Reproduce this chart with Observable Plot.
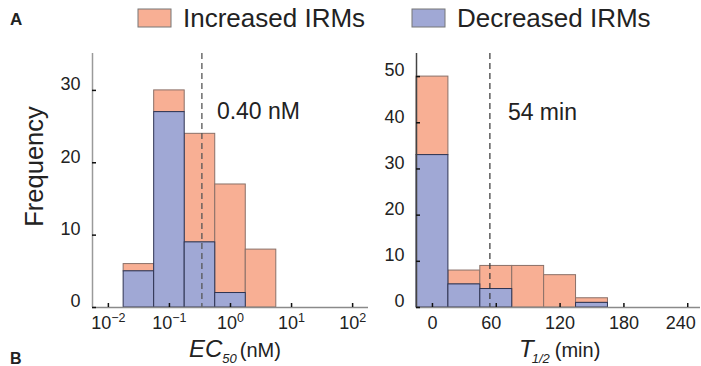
<!DOCTYPE html>
<html><head><meta charset="utf-8">
<script src="https://cdn.jsdelivr.net/npm/d3@7"></script>
<script src="https://cdn.jsdelivr.net/npm/@observablehq/plot@0.6"></script>
<style>
body{margin:0;background:#fff;font-family:"Liberation Sans",Arial,sans-serif;}
#wrap{position:relative;width:701px;height:366px;overflow:hidden;background:#fff}
#wrap svg{position:absolute;top:0}
</style></head><body><div id="wrap"></div>
<script>
// ---- data ----
const groups = ["Increased IRMs", "Decreased IRMs"];
const groupColors = ["#F8AF94", "#A0A8D5"];

// Panel A-left: EC50 histogram (log10 bin edges, nM)
const ec50BinExponents = [-1.75, -1.25, -0.75, -0.25, 0.25, 0.75];
const ec50Decreased = [5, 27, 9, 2, 0];
const ec50Increased = [1, 3, 15, 15, 8];
const ec50TickExponents = [-2, -1, 0, 1, 2];
const ec50YTicks = [0, 10, 20, 30];
const ec50Median = 0.34;
const ec50MedianLabel = "0.40 nM";

// Panel A-right: T1/2 histogram (min)
const t12BinEdges = [-15, 15, 45, 75, 105, 135, 165];
const t12Decreased = [33, 5, 4, 0, 0, 1];
const t12Increased = [17, 3, 5, 9, 7, 1];
const t12Ticks = [0, 60, 120, 180, 240];
const t12YTicks = [0, 10, 20, 30, 40, 50];
const t12Median = 54;
const t12MedianLabel = "54 min";

// ---- tables ----
const ec50Bins = ec50Decreased.map((d, i) => ({
  x1: 10 ** ec50BinExponents[i], x2: 10 ** ec50BinExponents[i + 1],
  dec: d, total: d + ec50Increased[i]
}));
const t12Bins = t12Decreased.map((d, i) => ({
  x1: t12BinEdges[i], x2: t12BinEdges[i + 1],
  dec: d, total: d + t12Increased[i]
}));

const font = "Liberation Sans, Arial, sans-serif";
const ink = "#222";
const incStroke = "#8a7068";
const decStroke = "#2e3352";

const ec50XMin = 10 ** -2.26, ec50XMax = 10 ** 2.26;
const left = Plot.plot({
  width: 372, height: 366, marginLeft: 92, marginRight: 4, marginTop: 53, marginBottom: 59,
  style: {fontFamily: font, fontSize: "18px", color: ink, background: "transparent", overflow: "visible"},
  x: {type: "log", domain: [ec50XMin, ec50XMax], label: null},
  y: {domain: [0, 35.1], label: null},
  marks: [
    Plot.rectY(ec50Bins, {x1: "x1", x2: "x2", y1: "dec", y2: "total", fill: groupColors[0], stroke: incStroke, strokeWidth: 1}),
    Plot.rectY(ec50Bins.filter(d => d.dec > 0), {x1: "x1", x2: "x2", y1: 0, y2: "dec", fill: groupColors[1], stroke: decStroke, strokeWidth: 1}),
    Plot.ruleX([ec50Median], {stroke: "#555", strokeDasharray: "6,4", strokeWidth: 1.3}),
    Plot.text([ec50MedianLabel], {x: ec50Median, y: 27, dx: 15, text: d => d, textAnchor: "start", fontSize: 23, fill: ink}),
    Plot.ruleY([0], {stroke: "#8a8a8a", strokeWidth: 1.5}),
    Plot.ruleX([ec50XMin], {stroke: "#9a9a9a", strokeWidth: 1.5}),
    Plot.tickY(ec50YTicks, {y: d => d, insetRight: 272, stroke: "#111", strokeWidth: 1.5}),
    Plot.tickX(ec50TickExponents.map(e => 10 ** e), {x: d => d, insetTop: 250, stroke: "#111", strokeWidth: 1.5}),
    Plot.axisY(ec50YTicks, {tickSize: 0, tickPadding: 12, dy: -6, label: null, fontSize: 18}),
    Plot.axisX(ec50TickExponents.map(e => 10 ** e), {tickSize: 0, tickPadding: 9, label: null, fontSize: 18,
      tickFormat: d => "10^" + Math.round(Math.log10(d))})
  ]
});
left.style.left = "0px";
// render the powers of ten with real superscripts
d3.select(left).selectAll("g[aria-label='x-axis tick label'] text").each(function () {
  const [base, exp] = this.textContent.split("^");
  const t = d3.select(this).text(null);
  t.append("tspan").text(base);
  t.append("tspan").attr("font-size", 12.5).attr("dy", -7).text(exp.replace("-", "\u2212"));
});

const right = Plot.plot({
  width: 329, height: 366, marginLeft: 44, marginRight: 1, marginTop: 53, marginBottom: 59,
  style: {fontFamily: font, fontSize: "18px", color: ink, background: "transparent", overflow: "visible"},
  x: {domain: [-15, 252], label: null},
  y: {domain: [0, 55], label: null},
  marks: [
    Plot.rectY(t12Bins, {x1: "x1", x2: "x2", y1: "dec", y2: "total", fill: groupColors[0], stroke: incStroke, strokeWidth: 1}),
    Plot.rectY(t12Bins.filter(d => d.dec > 0), {x1: "x1", x2: "x2", y1: 0, y2: "dec", fill: groupColors[1], stroke: decStroke, strokeWidth: 1}),
    Plot.ruleX([t12Median], {stroke: "#333", strokeDasharray: "6,4", strokeWidth: 1.2}),
    Plot.text([t12MedianLabel], {x: t12Median, y: 42.2, dx: 18, text: d => d, textAnchor: "start", fontSize: 23, fill: ink}),
    Plot.ruleY([0], {stroke: "#8a8a8a", strokeWidth: 1.5}),
    Plot.ruleX([-15], {stroke: "#444", strokeWidth: 1.5}),
    Plot.tickY(t12YTicks, {y: d => d, insetRight: 280, stroke: "#111", strokeWidth: 1.5}),
    Plot.tickX(t12Ticks, {x: d => d, insetTop: 250, stroke: "#111", strokeWidth: 1.5}),
    Plot.axisY(t12YTicks, {tickSize: 0, tickPadding: 12, dy: -6, label: null, fontSize: 18}),
    Plot.axisX(t12Ticks.filter(t => t !== 60 && t !== 240), {tickSize: 0, tickPadding: 9, label: null, fontSize: 18}),
    Plot.axisX(t12Ticks.filter(t => t === 60), {tickSize: 0, tickPadding: 9, label: null, fontSize: 18, dx: -5}),
    Plot.axisX(t12Ticks.filter(t => t === 240), {tickSize: 0, tickPadding: 9, label: null, fontSize: 18, dx: -7})
  ]
});
right.style.left = "372px";

const wrap = document.getElementById("wrap");
wrap.append(left, right);

// ---- overlay: panel letters, legend, axis titles ----
const ov = d3.select(wrap).append("svg")
  .attr("width", 701).attr("height", 366)
  .style("left", "0px").style("pointer-events", "none")
  .attr("font-family", font).attr("fill", ink);

ov.append("text").attr("x", 10).attr("y", 25).attr("font-size", 17).attr("font-weight", "bold").text("A");
ov.append("text").attr("x", 10).attr("y", 364).attr("font-size", 16).attr("font-weight", "bold").text("B");

const legendX = [138, 412];
groups.forEach((g, i) => {
  ov.append("rect").attr("x", legendX[i]).attr("y", 9).attr("width", 33).attr("height", 18)
    .attr("fill", groupColors[i]).attr("stroke", "#777").attr("stroke-width", 1);
  ov.append("text").attr("x", legendX[i] + 45).attr("y", 26.5).attr("font-size", 26).text(g);
});

ov.append("text").attr("transform", "translate(43,166.5) rotate(-90)")
  .attr("text-anchor", "middle").attr("font-size", 25.5).text("Frequency");

const t1 = ov.append("text").attr("x", 189).attr("y", 357);
t1.append("tspan").attr("font-style", "italic").attr("font-size", 24).text("EC");
t1.append("tspan").attr("font-style", "italic").attr("font-size", 13).attr("dy", 6).text("50");
t1.append("tspan").attr("font-size", 20).attr("dy", -6).attr("dx", 3).text("(nM)");

const t2 = ov.append("text").attr("x", 519).attr("y", 357);
t2.append("tspan").attr("font-style", "italic").attr("font-size", 24).text("T");
t2.append("tspan").attr("font-style", "italic").attr("font-size", 13).attr("dy", 6).attr("dx", -2).text("1/2");
t2.append("tspan").attr("font-size", 20).attr("dy", -6).attr("dx", 5).text("(min)");
</script></body></html>
